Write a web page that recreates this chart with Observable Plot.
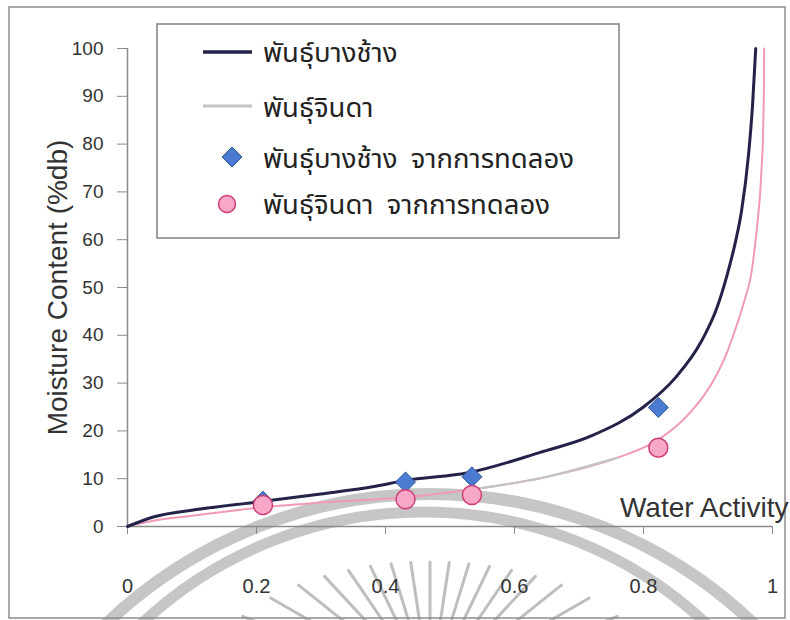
<!DOCTYPE html>
<html>
<head>
<meta charset="utf-8">
<script src="https://cdn.jsdelivr.net/npm/d3@7"></script>
<script src="https://cdn.jsdelivr.net/npm/@observablehq/plot@0.6"></script>
<style>
  body { margin: 0; background: #fff; }
  #chart { position: relative; width: 790px; height: 620px; font-family: "Liberation Sans", Arial, sans-serif; }
  #chart svg { position: absolute; left: 0; top: 0; }
  #legend text { font-family: "Noto Sans Thai", "Noto Sans", "DejaVu Sans", sans-serif; }
</style>
</head>
<body>
<div id="chart"></div>
<script>
// Fitted sorption isotherms: moisture content (%db) against water activity
const bangchangAw = [0, 0.04, 0.11, 0.2, 0.3, 0.38, 0.43, 0.53, 0.64, 0.72, 0.8, 0.85, 0.89, 0.914, 0.93, 0.943, 0.952, 0.963, 0.969, 0.974];
const bangchangMc = [0, 2.0, 3.6, 5.1, 6.8, 8.3, 9.6, 11.3, 15.5, 19.0, 25.0, 31.2, 38.8, 45.8, 52.8, 59.8, 66, 78, 88, 100];
const jindaAw = [0, 0.04, 0.11, 0.2, 0.3, 0.43, 0.53, 0.64, 0.76, 0.82, 0.87, 0.914, 0.93, 0.945, 0.957, 0.967, 0.977, 0.981, 0.9835, 0.985, 0.986, 0.9868, 0.987];
const jindaMc = [0, 1.2, 2.4, 3.9, 5.0, 6.1, 7.7, 10.1, 14.4, 17.9, 23.5, 31.9, 36.6, 42.3, 47.5, 52.8, 64, 70, 76, 80, 86, 93, 100];

// Measured points
const bangchangExpAw = [0.21, 0.431, 0.534, 0.823];
const bangchangExpMc = [5.3, 9.3, 10.4, 24.9];
const jindaExpAw = [0.21, 0.431, 0.534, 0.823];
const jindaExpMc = [4.5, 5.7, 6.6, 16.5];

// Axis ticks and labels
const xTicks = [0, 0.2, 0.4, 0.6, 0.8, 1];
const yTicks = [0, 10, 20, 30, 40, 50, 60, 70, 80, 90, 100];
const xTitle = "Water Activity";
const yTitle = "Moisture Content (%db)";
const seriesNames = ["พันธุ์บางช้าง", "พันธุ์จินดา", "พันธุ์บางช้าง จากการทดลอง", "พันธุ์จินดา จากการทดลอง"];

const zip = (xs, ys) => xs.map((aw, i) => ({aw, mc: ys[i]}));
const bangchangCurve = zip(bangchangAw, bangchangMc);
const jindaCurve = zip(jindaAw, jindaMc);
const bangchangExp = zip(bangchangExpAw, bangchangExpMc);
const jindaExp = zip(jindaExpAw, jindaExpMc);

const navy = "#23234a";
const pink = "#f09ab6";
const axisGray = "#8a8a8a";
const textColor = "#333";

const plot = Plot.plot({
  width: 790,
  height: 620,
  marginLeft: 127,
  marginRight: 18,
  marginTop: 48,
  marginBottom: 94,
  style: {background: "transparent", fontFamily: "Liberation Sans, Arial, sans-serif", color: textColor},
  x: {domain: [0, 1]},
  y: {domain: [0, 100]},
  marks: [
    Plot.axisX({ticks: xTicks, tickFormat: d => String(d), tickSize: 8, tickPadding: 44, fontSize: 20, stroke: axisGray, fill: textColor, label: null}),
    Plot.axisY({ticks: yTicks, tickSize: 10, tickPadding: 14, fontSize: 19, stroke: axisGray, fill: textColor, label: null}),
    Plot.ruleY([0], {stroke: axisGray, strokeWidth: 1.5}),
    Plot.ruleX([0], {stroke: axisGray, strokeWidth: 1.5}),
    Plot.text([yTitle], {frameAnchor: "left", textAnchor: "middle", rotate: -90, dx: -69, fontSize: 28, fill: textColor}),
    Plot.text([xTitle], {frameAnchor: "bottom-right", textAnchor: "end", dx: 16, dy: -10, fontSize: 28, fill: textColor}),
    Plot.line(jindaCurve, {x: "aw", y: "mc", stroke: pink, strokeWidth: 2, curve: "monotone-x"}),
    Plot.line(jindaCurve.filter(d => d.aw >= 0.53 && d.aw <= 0.76), {x: "aw", y: "mc", stroke: "#c4c4c4", strokeWidth: 2.2, curve: "monotone-x"}),
    Plot.line(bangchangCurve, {x: "aw", y: "mc", stroke: navy, strokeWidth: 3, curve: "monotone-x"}),
    Plot.dot(bangchangExp, {x: "aw", y: "mc", symbol: "diamond2", r: 9, fill: "#4a7bd0", stroke: "#2f5597", strokeWidth: 1}),
    Plot.dot(jindaExp, {x: "aw", y: "mc", r: 9.5, fill: "#f7a8c8", stroke: "#d03c78", strokeWidth: 1.5})
  ]
});

// Background watermark and outer frame, placed under the chart marks
const svg = d3.select(plot);
const bg = svg.insert("g", ":first-child").attr("fill", "none");
bg.append("circle").attr("cx", 430).attr("cy", 963).attr("r", 469).attr("stroke", "#c6c6c6").attr("stroke-width", 12);
bg.append("circle").attr("cx", 424).attr("cy", 925).attr("r", 413).attr("stroke", "#c6c6c6").attr("stroke-width", 11);
const rayCx = 430, rayCy = 690;
for (let k = -9; k <= 9; k++) {
  const phi = k * 8.57 * Math.PI / 180;
  const sx = Math.sin(phi), cy = Math.cos(phi);
  const rOut = 1 / Math.sqrt((sx * sx) / (229 * 229) + (cy * cy) / (128 * 128));
  const rIn = 40;
  bg.append("line")
    .attr("x1", rayCx + rOut * sx).attr("y1", rayCy - rOut * cy)
    .attr("x2", rayCx + rIn * sx).attr("y2", rayCy - rIn * cy)
    .attr("stroke", "#bebebe").attr("stroke-width", 3).attr("stroke-linecap", "round");
}
bg.append("rect").attr("x", 9).attr("y", 7).attr("width", 776).attr("height", 611)
  .attr("stroke", "#8c8c8c").attr("stroke-width", 1.5);

document.getElementById("chart").append(plot);

// Legend box inside the plot area
const legend = d3.select("#chart").append("svg")
  .attr("id", "legend").attr("width", 790).attr("height", 620);
legend.append("rect").attr("x", 157).attr("y", 24).attr("width", 462).attr("height", 214)
  .attr("fill", "#fff").attr("stroke", "#808080").attr("stroke-width", 1.5);
const rowY = [52, 106, 157, 204];
const textBase = [62, 117, 168, 214];
legend.append("line").attr("x1", 203).attr("x2", 252).attr("y1", rowY[0]).attr("y2", rowY[0]).attr("stroke", navy).attr("stroke-width", 3.5);
legend.append("line").attr("x1", 203).attr("x2", 252).attr("y1", rowY[1]).attr("y2", rowY[1]).attr("stroke", "#c4c4c4").attr("stroke-width", 3);
legend.append("path").attr("d", d3.symbol(d3.symbolDiamond2, Math.PI * 81)()).attr("transform", `translate(232,${rowY[2]})`)
  .attr("fill", "#4a7bd0").attr("stroke", "#2f5597");
legend.append("circle").attr("cx", 227).attr("cy", rowY[3]).attr("r", 8.5)
  .attr("fill", "#f7a8c8").attr("stroke", "#d03c78").attr("stroke-width", 1.5);
seriesNames.forEach((name, i) => {
  legend.append("text").attr("x", 263).attr("y", textBase[i]).attr("font-size", 27.5)
    .attr("word-spacing", 6).attr("fill", "#222").text(name);
});
</script>
</body>
</html>
